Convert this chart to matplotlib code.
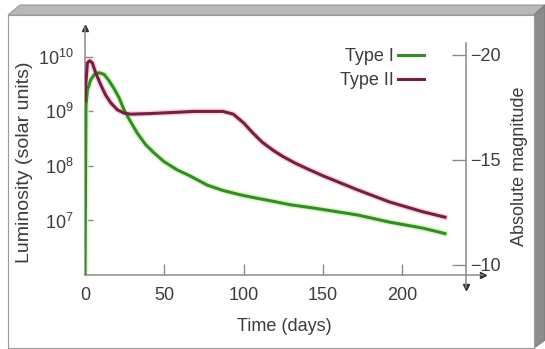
import matplotlib
matplotlib.use("Agg")
import matplotlib.pyplot as plt
from matplotlib.patches import Polygon, Rectangle
import numpy as np

plt.rcParams['font.family'] = ['Liberation Sans', 'DejaVu Sans']
plt.rcParams['mathtext.fontset'] = 'custom'
plt.rcParams['mathtext.rm'] = 'Liberation Sans'
plt.rcParams['mathtext.it'] = 'Liberation Sans'

# Type I supernova light curve (days, log10 L in solar units)
type1_days = [0, 0.6, 1.5, 3.6, 5.7, 8.8, 12, 15, 18.3, 21.5, 24.6, 28.8, 33,
              38.3, 43.5, 49.8, 58, 66.7, 77, 87, 98, 108, 119, 129, 146,
              172, 192, 213, 227]
type1_logL = [6.0, 9.1, 9.39, 9.58, 9.67, 9.71, 9.68, 9.57, 9.42, 9.25, 9.03,
              8.81, 8.60, 8.39, 8.24, 8.08, 7.93, 7.81, 7.65, 7.55, 7.47, 7.41,
              7.35, 7.29, 7.22, 7.10, 6.97, 6.86, 6.76]

# Type II supernova light curve
type2_days = [0, 0.4, 1.5, 3, 4.6, 6.7, 9.9, 13, 16.2, 20.4, 24.6, 28.8, 40,
              55, 69, 87, 93.5, 100, 106, 112, 119, 125, 132, 140, 150, 172,
              192, 213, 227]
type2_logL = [9.2, 9.46, 9.89, 9.93, 9.89, 9.71, 9.49, 9.30, 9.16, 9.03, 8.97,
              8.95, 8.96, 8.98, 9.0, 9.0, 8.95, 8.79, 8.60, 8.43, 8.28, 8.17,
              8.06, 7.95, 7.82, 7.56, 7.34, 7.16, 7.06]

x_ticks = [50, 100, 150, 200]
x_ticklabels = ['0', '50', '100', '150', '200']
lum_ticks = [1e7, 1e8, 1e9, 1e10]
lum_ticklabels = [r'$10^7$', r'$10^8$', r'$10^9$', r'$10^{10}$']
mag_ticks = [-20, -15, -10]
mag_ticklabels = ['\u221220', '\u221215', '\u221210']

W, H = 545, 349
fig = plt.figure(figsize=(W / 100, H / 100), dpi=100)
fig.patch.set_facecolor('white')

# bevelled frame
def px(x, y):
    return (x / W, 1 - y / H)

fig.patches.append(Polygon([px(8, 15), px(20, 5), px(545, 5), px(534, 15)],
                           closed=True, facecolor='#b8b8b8', edgecolor='#9a9a9a',
                           lw=0.8, transform=fig.transFigure, zorder=-10))
fig.patches.append(Polygon([px(534, 15), px(545, 5), px(545, 340), px(534, 348)],
                           closed=True, facecolor='#8c8c8c', edgecolor='#7a7a7a',
                           lw=0.8, transform=fig.transFigure, zorder=-10))
fig.patches.append(Rectangle(px(8, 348), (534 - 8) / W, (348 - 15) / H,
                             facecolor='white', edgecolor='#9a9a9a', lw=0.8,
                             transform=fig.transFigure, zorder=-10))

txt = '#3c3c3c'
axc = '#8a8a8a'
fs = 13
green = '#2f8f22'
red = '#7a1c44'

ax = fig.add_axes([85 / W, 1 - 275 / H, 398 / W, 247 / H])
ax.set_facecolor('none')
ax.set_yscale('log')
ax.set_xlim(0, 251)
ax.set_ylim(1e6, 10 ** 10.53)

ax.plot(type1_days, 10 ** np.array(type1_logL), color='#dcf5c4', lw=4.2,
        solid_joinstyle='round', zorder=2)
ax.plot(type1_days, 10 ** np.array(type1_logL), color=green, lw=2.2,
        solid_joinstyle='round', zorder=3)
ax.plot(type2_days, 10 ** np.array(type2_logL), color='#f6d3df', lw=4.2,
        solid_joinstyle='round', zorder=2)
ax.plot(type2_days, 10 ** np.array(type2_logL), color=red, lw=2.2,
        solid_joinstyle='round', zorder=3, label='Type II')
ax.plot([], [], color=green, lw=2.2, label='Type I')

for s in ['top', 'right']:
    ax.spines[s].set_visible(False)
for s in ['left', 'bottom']:
    ax.spines[s].set_color(axc)
    ax.spines[s].set_linewidth(1.1)

ax.set_xticks([0] + x_ticks)
ax.set_xticklabels(x_ticklabels)
ax.set_yticks(lum_ticks)
ax.set_yticklabels(lum_ticklabels)
ax.yaxis.set_minor_locator(matplotlib.ticker.NullLocator())
ax.tick_params(axis='x', direction='in', length=8, width=1, color=axc,
               labelsize=fs, labelcolor=txt, pad=9)
ax.tick_params(axis='y', direction='in', length=6, width=1, color=axc,
               labelsize=fs, labelcolor=txt, pad=8)
ax.xaxis.get_major_ticks()[0].tick1line.set_visible(False)

# axis arrows
ax.plot([0], [1], marker='^', color='#333333', ms=5, transform=ax.transAxes,
        clip_on=False)
ax.plot([1], [0], marker='>', color='#333333', ms=5, transform=ax.transAxes,
        clip_on=False)

ax.set_xlabel('Time (days)', fontsize=fs, color=txt, labelpad=10)
fig.text(25 / W, 1 - 162 / H, 'Luminosity (solar units)', rotation=90,
         ha='center', va='center', fontsize=14, color=txt)

h, l = ax.get_legend_handles_labels()
leg = ax.legend(h[::-1], l[::-1], loc='upper right', markerfirst=False,
                frameon=False, fontsize=fs, handlelength=1.45, handletextpad=0.2,
                labelspacing=0.4, bbox_to_anchor=(424 / W, 1 - 48 / H),
                bbox_transform=fig.transFigure, borderpad=0, borderaxespad=0)
for t in leg.get_texts():
    t.set_color(txt)

# absolute magnitude axis
ax2 = fig.add_axes([456 / W, 1 - 287 / H, 10 / W, 244 / H])
ax2.set_facecolor('none')
ax2.set_xticks([])
ax2.set_ylim(-8.952, -20.571)
for s in ['top', 'left', 'bottom']:
    ax2.spines[s].set_visible(False)
ax2.spines['right'].set_color(axc)
ax2.spines['right'].set_linewidth(1.1)
ax2.yaxis.tick_right()
ax2.set_yticks(mag_ticks)
ax2.set_yticklabels(mag_ticklabels)
ax2.tick_params(axis='y', direction='in', length=10, width=1, color=axc,
                labelsize=fs, labelcolor=txt, pad=3)
ax2.plot([1], [0], marker='v', color='#333333', ms=5, transform=ax2.transAxes,
         clip_on=False)
fig.text(519 / W, 1 - 166 / H, 'Absolute magnitude', rotation=90,
         ha='center', va='center', fontsize=fs, color=txt)

fig.savefig('out.png', dpi=100)
